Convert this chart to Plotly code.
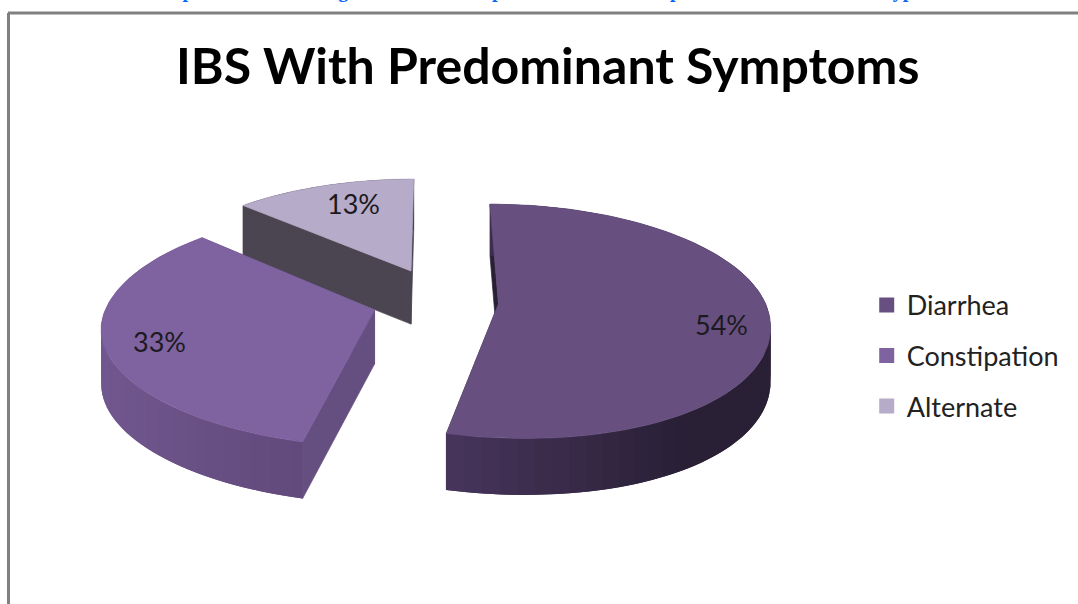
import math
import plotly.graph_objects as go

# Chart data
categories = ["Diarrhea", "Constipation", "Alternate"]
percentages = [54, 33, 13]
chart_title = "IBS With Predominant Symptoms"

# Styling of each slice
top_colors = ["#675080", "#7f62a0", "#b6abc8"]
wall_start = ["#47355c", "#72588f", "#4a4550"]
wall_end = ["#2a2036", "#56406f", "#4a4550"]
cut_colors = ["#2a2036", "#654f80", "#4a4550"]
explode_x = [0.245, -0.217, -0.086]
explode_y = [0.07, 0.017, 0.37]
label_radius = [0.825, 0.80, 0.63]
label_yshift = [-9, -5, 11]

# Oblique view of the pie, in page pixels
CX, CY = 433.0, 312.0
RX, RY = 270.0, 117.0
THICK = 54.0
PERSP = 0.15
SKEW = 18.0


def project(x, y, z):
    p = 1.0 / (1.0 + PERSP * y)
    sx = CX + RX * x * p + SKEW * min(y, 0.0) ** 2
    sy = CY - RY * y * p - THICK * z * p ** 0.3
    return sx, sy


def rim(i, theta, z=0.0):
    return project(explode_x[i] + math.sin(theta), explode_y[i] + math.cos(theta), z)


def mix(c0, c1, t):
    t = min(1.0, max(0.0, t))
    a = [int(c0[k:k + 2], 16) for k in (1, 3, 5)]
    b = [int(c1[k:k + 2], 16) for k in (1, 3, 5)]
    return "rgb({},{},{})".format(*[round(u + (v - u) * t) for u, v in zip(a, b)])


def polygon(points, color, edge=0.7):
    return go.Scatter(
        x=[q[0] for q in points] + [points[0][0]],
        y=[q[1] for q in points] + [points[0][1]],
        mode="lines", fill="toself", fillcolor=color,
        line=dict(color=color, width=edge),
        hoverinfo="skip", showlegend=False,
    )


fig = go.Figure()

# Slice angles, clockwise from twelve o'clock
total = sum(percentages)
spans = []
running = 0.0
for value in percentages:
    start = running / total * 2 * math.pi
    running += value
    spans.append((start, running / total * 2 * math.pi))

# Painted back to front: Alternate, Constipation, Diarrhea
for i in (2, 1, 0):
    t0, t1 = spans[i]
    apex = (explode_x[i], explode_y[i])
    apex_top = project(apex[0], apex[1], 0)
    apex_bot = project(apex[0], apex[1], -1)

    # Flat cut faces
    for t in (t0, t1):
        fig.add_trace(polygon([apex_top, rim(i, t), rim(i, t, -1), apex_bot], cut_colors[i]))

    # Curved outer wall: each strip runs under the next one so no seams show
    strips = 60
    step = (t1 - t0) / strips
    order = range(strips) if i != 1 else range(strips - 1, -1, -1)
    for k in order:
        a = t0 + step * k
        b = t0 + step * (k + 1)
        u = math.sin((a + b) / 2)
        if i == 0:
            shade = mix(wall_start[i], wall_end[i], (u + 0.25) / 0.75)
        else:
            shade = mix(wall_start[i], wall_end[i], (u + 1) / 1.25)
        if i == 1:
            a2, b2 = max(t0, a - step), b
        else:
            a2, b2 = a, min(t1, b + step)
        seg = [rim(i, a2 + (b2 - a2) * n / 4) for n in range(5)]
        seg += [rim(i, b2 - (b2 - a2) * n / 4, -1) for n in range(5)]
        fig.add_trace(polygon(seg, shade, edge=0))

    # Top face
    steps = 120
    outline = [apex_top] + [rim(i, t0 + (t1 - t0) * k / steps) for k in range(steps + 1)]
    fig.add_trace(polygon(outline, top_colors[i]))

    # Value label placed along the middle of the slice
    mid = (t0 + t1) / 2
    lx, ly = project(apex[0] + label_radius[i] * math.sin(mid),
                     apex[1] + label_radius[i] * math.cos(mid), 0)
    fig.add_annotation(x=lx, y=ly, yshift=label_yshift[i], text=f"{percentages[i]}%",
                       showarrow=False,
                       font=dict(family="Lato", size=27, color="#1c1a20"))

# Legend entries
for name, color in zip(categories, top_colors):
    fig.add_trace(go.Scatter(
        x=[None], y=[None], mode="markers", name=name, legendgroup=name,
        marker=dict(symbol="square", size=15, color=color),
    ))

# Caption of the page above the frame, mostly cut off by the top edge
caption_parts = [("Graph 2:", 187), ("Percentage of IBS", 339), ("patients with", 547),
                 ("predominant", 725), ("subtype", 889)]
for word, x in caption_parts:
    fig.add_annotation(x=x, y=3, yanchor="bottom", text=word, showarrow=False, borderpad=0,
                       font=dict(family="Liberation Serif", size=20, color="#0a64ff", weight="bold"))

fig.add_annotation(x=547, y=65, text=f"<b>{chart_title}</b>", showarrow=False,
                   font=dict(family="Lato", size=50, color="#000000"))

# Frame around the chart, open to the right and bottom
fig.add_shape(type="line", x0=8.5, x1=8.5, y0=13, y1=604, line=dict(color="#808080", width=3))
fig.add_shape(type="line", x0=8, x1=1078, y0=13, y1=13, line=dict(color="#808080", width=3))

fig.update_layout(
    width=1078, height=604, margin=dict(l=0, r=0, t=0, b=0),
    paper_bgcolor="white", plot_bgcolor="white",
    xaxis=dict(range=[0, 1078], visible=False, fixedrange=True),
    yaxis=dict(range=[604, 0], visible=False, fixedrange=True),
    legend=dict(x=0.804, y=0.535, xanchor="left", yanchor="top", tracegroupgap=12.5,
                bgcolor="rgba(0,0,0,0)", itemclick=False, itemdoubleclick=False,
                font=dict(family="Lato", size=27, color="#222222")),
)

fig.write_html("out.html", config=dict(displayModeBar=False))
